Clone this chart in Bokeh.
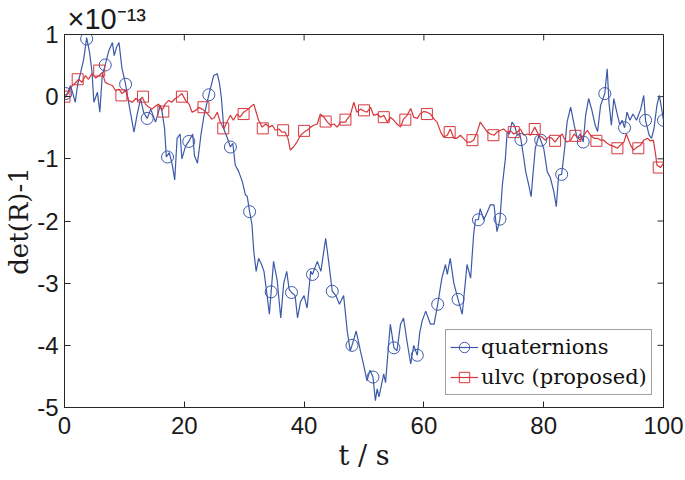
import numpy as np
from bokeh.plotting import figure
from bokeh.models import Range1d, Legend, LegendItem, Title, FixedTicker
from bokeh.embed import file_html
from bokeh.resources import INLINE

# ---------------- data (values in units of 1e-13) ----------------
q_t = [0.0, 0.5, 1.0, 1.4, 1.8, 2.2, 2.7, 3.2, 3.7, 4.2, 4.6, 4.9, 5.5, 5.9, 6.3, 6.8, 7.4, 8.0, 8.3, 8.7,
       9.1, 9.6, 10.2, 10.5, 11.0, 11.6, 12.1, 12.7, 13.2, 13.8, 14.4, 15.2, 16.0, 16.3, 16.7, 17.0, 17.5, 18.0, 18.4, 18.8,
       19.3, 19.6, 20.2, 20.75, 21.4, 21.7, 22.2, 22.8, 23.3, 24.1, 24.9, 25.5, 25.9, 26.2, 26.6, 27.2, 27.7, 28.1, 28.5, 29.1,
       29.7, 30.2, 30.5, 30.9, 31.3, 31.6, 32.0, 32.4, 32.9, 33.3, 33.8, 34.2, 34.5, 34.9, 35.5, 36.1, 36.6, 37.1, 37.5, 37.9,
       38.5, 38.9, 39.4, 40.0, 40.5, 41.1, 41.4, 42.2, 42.8, 43.6, 44.1, 44.7, 45.3, 45.9, 46.6, 47.2, 47.7, 48.0, 48.7, 49.4,
       49.9, 50.5, 51.0, 51.5, 51.9, 52.2, 52.5, 53.3, 53.6, 54.2, 54.4, 55.0, 55.5, 56.1, 56.6, 57.2, 57.8, 58.3, 58.9, 59.3,
       59.7, 60.3, 61.1, 61.7, 62.3, 63.0, 63.6, 63.9, 64.4, 65.0, 65.7, 66.4, 66.9, 67.2, 67.8, 68.3, 68.6, 69.1, 69.4, 70.0,
       70.6, 71.1, 71.7, 72.2, 72.7, 73.1, 73.6, 73.9, 74.3, 74.7, 75.1, 75.6, 76.0, 76.2, 76.6, 77.0, 77.5, 77.9, 78.2, 78.6,
       79.2, 79.5, 80.0, 80.6, 81.1, 81.7, 82.1, 82.5, 83.0, 83.5, 83.9, 84.5, 85.1, 85.6, 86.1, 86.6, 87.0, 87.5, 88.0, 88.6,
       89.0, 89.5, 90.2, 90.6, 90.9, 91.3, 91.7, 92.2, 92.7, 93.1, 93.5, 93.9, 94.4, 94.9, 95.5, 96.2, 96.7, 97.0, 97.6, 98.0,
       98.4, 98.9, 99.3, 99.7, 100.0]
q_y = [0.02, 0.05, 0.18, 0.05, -0.09, 0.2, 0.39, 0.6, 0.95, 0.7, 0.39, -0.09, 0.07, -0.25, 0.34, 0.51, 0.74, 0.87, 0.66, 0.8,
       0.87, 0.45, 0.2, 0.02, -0.25, -0.57, -0.3, -0.03, -0.25, -0.35, -0.2, -0.41, -0.14, -0.25, -0.51, -0.97, -0.9, -1.1, -1.34, -0.67,
       -0.6, -1.0, -0.8, -0.72, -0.6, -0.95, -1.07, -0.6, -0.3, 0.03, 0.34, 0.37, 0.2, -0.03, -0.52, -0.67, -0.81, -0.75, -1.1, -1.21,
       -1.37, -1.58, -1.6, -1.85, -2.06, -2.49, -2.81, -2.6, -2.7, -2.81, -3.18, -3.5, -3.14, -2.65, -2.95, -3.56, -3.0, -2.81, -3.1, -3.15,
       -3.2, -3.56, -3.3, -3.2, -3.4, -2.81, -2.86, -2.65, -2.81, -2.28, -2.65, -3.13, -3.2, -3.34, -3.2, -3.77, -4.09, -4.0, -3.77, -4.09,
       -4.3, -4.57, -4.4, -4.51, -4.89, -4.7, -4.83, -4.46, -4.6, -3.88, -3.66, -4.04, -4.09, -3.66, -3.56, -3.95, -4.3, -4.0, -4.16, -3.8,
       -3.61, -3.45, -3.66, -3.66, -3.34, -2.92, -2.7, -2.86, -2.6, -3.0, -3.26, -3.5, -3.0, -2.7, -2.92, -2.22, -1.98, -1.98, -1.8, -1.98,
       -1.85, -1.74, -1.74, -2.17, -1.97, -1.42, -1.0, -0.57, -0.6, -0.41, -0.46, -0.62, -0.6, -0.69, -0.94, -1.21, -1.42, -1.61, -1.26, -0.83,
       -0.62, -0.7, -0.83, -1.21, -1.3, -1.53, -1.77, -1.26, -1.25, -0.83, -0.41, -0.17, -0.46, -0.67, -0.6, -0.73, -0.3, -0.03, -0.2, -0.46,
       -0.56, -0.14, 0.05, 0.45, -0.1, -0.46, -0.03, -0.25, -0.45, -0.38, -0.5, -0.25, -0.38, -0.28, -0.38, -0.2, 0.02, -0.38, -0.62, -0.67,
       -0.52, -0.14, 0.02, -0.2, -0.38]

u_t = [0.0, 0.7, 1.3, 1.8, 2.4, 2.9, 3.5, 4.0, 4.6, 5.2, 5.8, 6.3, 6.8, 7.4, 8.0, 8.5, 9.1, 9.6, 10.2, 10.7,
       11.3, 11.9, 12.4, 13.0, 13.5, 14.1, 14.6, 15.2, 15.7, 16.3, 16.8, 17.4, 17.9, 18.5, 19.0, 19.6, 20.2, 20.8, 21.3, 21.9,
       22.4, 23.0, 23.6, 24.1, 24.6, 25.0, 25.5, 26.0, 26.6, 27.1, 27.7, 28.2, 28.8, 29.3, 29.9, 30.4, 31.0, 31.6, 32.0, 32.4,
       33.0, 33.6, 34.2, 34.7, 35.2, 35.8, 36.3, 36.8, 37.3, 37.7, 38.2, 38.8, 39.4, 40.0, 40.5, 41.1, 41.6, 42.2, 42.7, 43.3,
       43.9, 44.4, 45.0, 45.5, 46.1, 46.9, 47.2, 47.7, 48.3, 48.8, 49.4, 50.0, 50.5, 51.1, 51.6, 52.2, 52.8, 53.3, 53.9, 54.4,
       55.0, 55.5, 56.1, 56.6, 57.2, 57.8, 58.3, 58.9, 59.4, 60.0, 60.5, 61.1, 61.7, 62.2, 62.8, 63.3, 63.9, 64.4, 65.0, 65.5,
       66.1, 66.6, 67.2, 67.8, 68.3, 68.9, 69.4, 70.0, 70.6, 71.1, 71.7, 72.2, 72.8, 73.3, 73.9, 74.5, 75.0, 75.6, 76.1, 76.7,
       77.3, 77.8, 78.5, 79.2, 79.7, 80.3, 80.8, 81.4, 81.9, 82.5, 83.1, 83.4, 83.9, 84.5, 85.1, 85.6, 86.1, 86.7, 87.3, 87.8,
       88.4, 89.0, 89.5, 90.0, 90.6, 91.1, 91.7, 92.3, 92.8, 93.4, 93.8, 94.5, 95.0, 95.6, 96.2, 96.7, 97.3, 97.8, 98.3, 98.7,
       98.9, 99.5, 100.0]
u_y = [-0.03, 0.07, 0.18, 0.22, 0.28, 0.23, 0.34, 0.28, 0.37, 0.3, 0.34, 0.39, 0.23, 0.2, 0.18, 0.1, 0.12, 0.05, 0.1, -0.06,
       -0.09, -0.03, -0.06, -0.01, -0.12, -0.17, -0.2, -0.15, -0.12, -0.22, -0.12, -0.06, -0.09, -0.03, 0.0, 0.05, -0.06, -0.12, -0.25, -0.22,
       -0.17, -0.2, -0.25, -0.3, -0.36, -0.34, -0.25, -0.41, -0.52, -0.41, -0.3, -0.38, -0.28, -0.33, -0.25, -0.22, -0.17, -0.12, -0.25, -0.38,
       -0.49, -0.44, -0.49, -0.46, -0.54, -0.52, -0.57, -0.57, -0.67, -0.86, -0.81, -0.73, -0.62, -0.57, -0.54, -0.49, -0.46, -0.44, -0.28, -0.33,
       -0.41, -0.46, -0.44, -0.49, -0.41, -0.41, -0.36, -0.3, -0.09, -0.25, -0.2, -0.23, -0.25, -0.17, -0.3, -0.28, -0.33, -0.3, -0.41, -0.33,
       -0.38, -0.44, -0.49, -0.36, -0.3, -0.19, -0.33, -0.35, -0.27, -0.24, -0.25, -0.28, -0.36, -0.41, -0.57, -0.65, -0.62, -0.52, -0.67, -0.67,
       -0.62, -0.67, -0.73, -0.73, -0.7, -0.57, -0.41, -0.49, -0.57, -0.6, -0.62, -0.57, -0.54, -0.52, -0.57, -0.55, -0.6, -0.57, -0.52, -0.62,
       -0.6, -0.62, -0.49, -0.62, -0.65, -0.7, -0.65, -0.67, -0.73, -0.65, -0.6, -0.67, -0.73, -0.7, -0.6, -0.65, -0.7, -0.62, -0.54, -0.62,
       -0.67, -0.67, -0.7, -0.7, -0.75, -0.78, -0.8, -0.83, -0.78, -0.73, -0.6, -0.78, -0.86, -0.81, -0.78, -0.7, -0.67, -0.71, -0.7, -0.94,
       -1.1, -1.14, -1.07]

q_mark_t = [0.2, 3.7, 6.8, 10.2, 13.8, 17.2, 20.75, 24.1, 27.7, 30.9, 34.5, 37.9, 41.4, 44.7, 48.0,
            51.5, 55.0, 58.9, 62.3, 65.7, 69.1, 72.7, 76.2, 79.5, 83.0, 86.6, 90.2, 93.5, 97.0, 100.0]
q_mark_y = [0.05, 0.93, 0.51, 0.2, -0.35, -0.97, -0.72, 0.03, -0.81, -1.85, -3.14, -3.15, -2.86, -3.13, -4.0,
            -4.51, -4.04, -4.16, -3.34, -3.26, -1.98, -1.97, -0.69, -0.7, -1.25, -0.73, 0.05, -0.5, -0.38, -0.38]
u_mark_t = [0.0, 2.2, 5.8, 9.5, 13.1, 16.5, 19.6, 23.2, 26.5, 29.9, 33.1, 36.5, 40.0, 43.6, 46.9,
            50.0, 53.3, 56.9, 60.5, 64.3, 68.1, 71.6, 75.0, 78.5, 81.9, 85.3, 88.8, 92.3, 95.8, 99.2]
u_mark_y = [0.0, 0.28, 0.42, 0.02, 0.0, -0.24, 0.0, -0.17, -0.51, -0.28, -0.51, -0.54, -0.55, -0.4, -0.37,
            -0.22, -0.33, -0.37, -0.28, -0.57, -0.7, -0.62, -0.57, -0.52, -0.71, -0.63, -0.71, -0.83, -0.83, -1.14]

x_ticks = [0, 20, 40, 60, 80, 100]
y_ticks = [-5, -4, -3, -2, -1, 0, 1]
series_names = ["quaternions", "ulvc (proposed)"]
exponent_text = "\u00d710\u207b\u00b9\u00b3"

BLUE = "#3D5AA9"
RED = "#D6373C"
AX = "#262626"
SANS = "Liberation Sans"
SERIF = "DejaVu Serif"

X0, X1 = 0, 100
Y0, Y1 = -5, 1
FRAME_W, FRAME_H = 599, 375
TICK_PX = 6

p = figure(width=685, height=480, output_backend="svg", toolbar_location=None,
           x_range=Range1d(X0, X1), y_range=Range1d(Y0, Y1),
           min_border_left=64, min_border_right=22, min_border_top=32, min_border_bottom=73)
p.grid.visible = False
p.outline_line_color = AX
p.outline_line_width = 1
p.background_fill_color = "white"
p.border_fill_color = "white"

for ax in (p.xaxis[0], p.yaxis[0]):
    ax.major_tick_in = TICK_PX
    ax.major_tick_out = 0
    ax.minor_tick_line_color = None
    ax.axis_line_color = AX
    ax.major_tick_line_color = AX
    ax.major_label_text_font = SANS
    ax.major_label_text_font_size = "24px"
    ax.major_label_text_color = "#1a1a1a"
    ax.axis_label_text_font = SERIF
    ax.axis_label_text_font_size = "27px"
    ax.axis_label_text_font_style = "normal"
    ax.axis_label_text_color = "#1a1a1a"

p.yaxis.axis_label_text_font_size = "26px"
p.xaxis.ticker = FixedTicker(ticks=x_ticks)
p.yaxis.ticker = FixedTicker(ticks=y_ticks)
p.xaxis.major_label_overrides = {t: str(t) for t in x_ticks}
p.yaxis.major_label_overrides = {t: str(t) for t in y_ticks}
p.xaxis.major_label_standoff = 9
p.yaxis.major_label_standoff = 6
p.xaxis.axis_label = "t / s"
p.yaxis.axis_label = "det(R)-1"
p.xaxis.axis_label_standoff = 3
p.yaxis.axis_label_standoff = 0

# inner ticks on the top and right edges of the box
ty = TICK_PX * (Y1 - Y0) / FRAME_H
tx = TICK_PX * (X1 - X0) / FRAME_W
p.segment(x0=x_ticks, y0=[Y1] * len(x_ticks), x1=x_ticks, y1=[Y1 - ty] * len(x_ticks),
          line_color=AX, line_width=1)
p.segment(x0=[X1] * len(y_ticks), y0=y_ticks, x1=[X1 - tx] * len(y_ticks), y1=y_ticks,
          line_color=AX, line_width=1)

ql = p.line(q_t, q_y, line_color=BLUE, line_width=1.2)
ul = p.line(u_t, u_y, line_color=RED, line_width=1.2)
qm = p.scatter(q_mark_t, q_mark_y, marker="circle", size=12, fill_color=None,
               line_color=BLUE, line_width=1)
um = p.scatter(u_mark_t, u_mark_y, marker="square", size=11, fill_color=None,
               line_color=RED, line_width=1)

legend = Legend(items=[LegendItem(label=series_names[0], renderers=[ql, qm]),
                       LegendItem(label=series_names[1], renderers=[ul, um])],
                location=(381, 12), orientation="vertical")
legend.label_text_font = SERIF
legend.label_text_font_size = "21px"
legend.label_text_color = "#111111"
legend.glyph_width = 28
legend.glyph_height = 26
legend.label_height = 26
legend.label_standoff = 3
legend.padding = 4
legend.spacing = 4
legend.margin = 0
legend.border_line_color = "#404040"
legend.border_line_width = 1
legend.background_fill_color = "white"
legend.background_fill_alpha = 1
p.add_layout(legend)

p.add_layout(Title(text=exponent_text, align="left", offset=3, standoff=0,
                   text_font=SANS, text_font_size="29px", text_font_style="normal",
                   text_color="#1a1a1a"), "above")

open("out.html", "w").write(file_html(p, INLINE))
